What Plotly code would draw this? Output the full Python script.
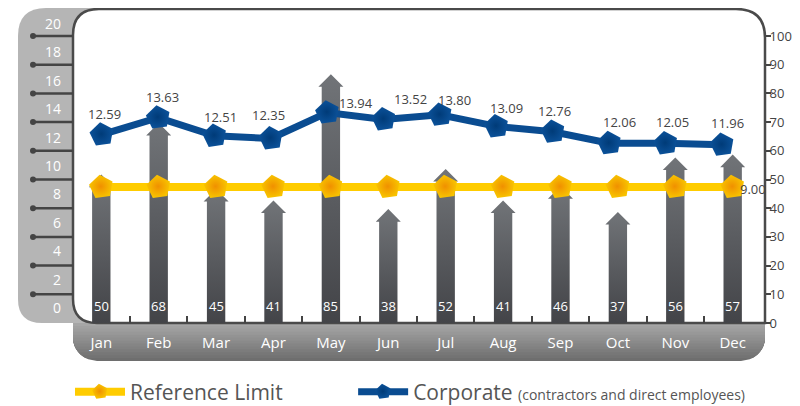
import numpy as np
import plotly.graph_objects as go

# ---------------- data ----------------
months = ["Jan", "Feb", "Mar", "Apr", "May", "Jun", "Jul", "Aug", "Sep", "Oct", "Nov", "Dec"]
workers = [50, 68, 45, 41, 85, 38, 52, 41, 46, 37, 56, 57]
corporate = [12.59, 13.63, 12.51, 12.35, 13.94, 13.52, 13.80, 13.09, 12.76, 12.06, 12.05, 11.96]
reference_limit = [9.00] * 12
left_ticks = list(range(0, 21, 2))
right_ticks = list(range(0, 101, 10))
grid_ticks = list(range(10, 101, 10))

# label offsets (pixels) for the corporate value labels
label_dx = [3, 4, 6, -2, 29, 27, 14, 10, 2, 10, 7, 5]
label_dy = [21, 21, 19, 23, 10, 20, 15, 18, 21, 21, 21, 22]

# ---------------- layout geometry ----------------
# the page body adds an 8px margin, so the figure is 8px smaller and all
# pixel positions below are given in window coordinates
PAGE = 8
W, H = 800 - PAGE, 406 - PAGE
PLOT_L, PLOT_R, PLOT_T, PLOT_B = 73, 765, 8, 323     # window pixels
ML, MT = PLOT_L - PAGE, PLOT_T - PAGE
MR, MB = W - (PLOT_R - PAGE), H - (PLOT_B - PAGE)
PW, PH = PLOT_R - PLOT_L, PLOT_B - PLOT_T


def px(x):
    return (x - PLOT_L) / PW


def py(y):
    return (PLOT_B - y) / PH


FONT = "Open Sans"
idx = np.arange(len(months))

fig = go.Figure()

# empty trace so the left (label) axis owns a subplot
fig.add_trace(go.Scatter(x=[], y=[], xaxis="x", yaxis="y", showlegend=False, hoverinfo="skip"))

# ---------------- arrow bars (right axis) ----------------
BODY, HEAD, SHOULDER, TIP = 0.16, 0.218, 2.7, 1.7
for i, v in enumerate(workers):
    xs = [i - BODY, i - BODY, i - HEAD, i, i + HEAD, i + BODY, i + BODY, i - BODY]
    ys = [0, v - SHOULDER, v - SHOULDER, v + TIP, v - SHOULDER, v - SHOULDER, 0, 0]
    fig.add_trace(go.Scatter(
        x=xs, y=ys, mode="lines", fill="toself", line=dict(width=0),
        fillcolor="#5a5c60",
        fillgradient=dict(type="vertical", colorscale=[[0, "#434448"], [1, "#717478"]]),
        xaxis="x", yaxis="y2", showlegend=False, hoverinfo="skip"))

# ---------------- reference limit ----------------
fig.add_trace(go.Scatter(
    x=idx, y=reference_limit, mode="lines+markers",
    name="Reference Limit" + "&nbsp;" * 12,
    line=dict(color="#ffcc00", width=8),
    marker=dict(symbol="pentagon", size=25, color="#f8c400",
                gradient=dict(type="radial", color="#f09000"), line=dict(width=0), angle=-8),
    xaxis="x", yaxis="y4", hoverinfo="skip"))

# ---------------- corporate ----------------
fig.add_trace(go.Scatter(
    x=idx, y=corporate, mode="lines+markers",
    name='Corporate <span style="font-size:14px">(contractors and direct employees)</span>',
    line=dict(color="#0a4c91", width=7),
    marker=dict(symbol="pentagon", size=25, color="#0b5199",
                gradient=dict(type="radial", color="#003b78"), line=dict(width=0), angle=-8),
    xaxis="x2", yaxis="y3", hoverinfo="skip"))

# ---------------- annotations ----------------
annotations = []
for i, v in enumerate(workers):
    annotations.append(dict(x=i, y=0, xref="x", yref="y2", text=str(v), showarrow=False,
                            yanchor="bottom", yshift=6,
                            font=dict(family=FONT, size=13, color="white")))
for i, v in enumerate(corporate):
    annotations.append(dict(x=i, y=v, xref="x2", yref="y3", text=f"{v:.2f}", showarrow=False,
                            xshift=label_dx[i], yshift=label_dy[i],
                            font=dict(family=FONT, size=13, color="#444")))
annotations.append(dict(x=idx[-1], y=reference_limit[-1], xref="x", yref="y4",
                        text=f"{reference_limit[-1]:.2f}", showarrow=False,
                        xanchor="left", xshift=5, yshift=-2,
                        font=dict(family=FONT, size=13, color="#444")))


# ---------------- decorative shapes ----------------
def P(x, y):
    return f"{px(x):.5f},{py(y):.5f}"


left_panel = (f"M{P(110, 8)} L{P(46, 8)} Q{P(18, 8)} {P(18, 36)} L{P(18, 299)} "
              f"Q{P(18, 323)} {P(42, 323)} L{P(110, 323)} Z")
white_panel = (f"M{P(73, 35)} Q{P(73, 9)} {P(99, 9)} L{P(736, 9)} Q{P(765, 9)} {P(765, 38)} "
               f"L{P(765, 323)} L{P(97, 323)} Q{P(73, 323)} {P(73, 299)} Z")

shapes = [
    dict(type="path", path=left_panel, xref="paper", yref="paper", fillcolor="#b5b5b5",
         line=dict(width=0), layer="below"),
]

# bottom band with a stepped vertical gradient and rounded bottom corners
BT, BB, BL, BR, RAD = 323, 361, 73, 765, 24


def band_path(yb):
    ys = np.linspace(BT, yb, 24)
    right, left = [], []
    for y in ys:
        d = max(0.0, y - (BB - RAD))
        off = RAD - np.sqrt(max(RAD ** 2 - d ** 2, 0.0))
        right.append((BR - off, y))
        left.append((BL + off, y))
    pts = right + left[::-1]
    return "M" + " L".join(P(x, y) for x, y in pts) + " Z"


c_top, c_bot = np.array([0xa9, 0xa9, 0xa9]), np.array([0x6c, 0x6c, 0x6c])
steps = 13
for k in range(steps, 0, -1):
    yb = BT + (BB - BT) * k / steps
    t = (k - 0.5) / steps
    c = (c_top + (c_bot - c_top) * t).astype(int)
    shapes.append(dict(type="path", path=band_path(yb), xref="paper", yref="paper",
                       fillcolor=f"rgb({c[0]},{c[1]},{c[2]})", line=dict(width=0),
                       layer="below"))

shapes.append(dict(type="path", path=white_panel, xref="paper", yref="paper", fillcolor="white",
                   line=dict(color="#4a4a4a", width=2.5), layer="below"))

for g in grid_ticks:
    shapes.append(dict(type="line", xref="paper", yref="y2", x0=px(33), x1=px(73), y0=g, y1=g,
                       line=dict(color="#444", width=2.5), layer="above"))
    shapes.append(dict(type="circle", xref="paper", yref="y2", x0=px(30), x1=px(36),
                       y0=g - 1.05, y1=g + 1.05, fillcolor="#444", line=dict(width=0),
                       layer="above"))

y2_range = [0, PH / 2.87]

fig.update_layout(
    width=W, height=H, autosize=False,
    margin=dict(l=ML, r=MR, t=MT, b=MB, pad=0, autoexpand=False),
    paper_bgcolor="white", plot_bgcolor="rgba(0,0,0,0)",
    font=dict(family=FONT, color="#444"),
    showlegend=True,
    legend=dict(orientation="h", x=px(70), y=py(392), xanchor="left", yanchor="middle",
                font=dict(family=FONT, size=21, color="#555"), bgcolor="rgba(0,0,0,0)",
                itemwidth=50),
    xaxis=dict(range=[-0.493, 11.563], tickmode="array", tickvals=idx, ticktext=months,
               ticks="", showgrid=False, zeroline=False, showline=False, automargin=False,
               tickfont=dict(family=FONT, size=15, color="white"), ticklabelstandoff=9,
               minor=dict(tickmode="array", tickvals=list(idx[:-1] + 0.5), ticks="inside",
                          ticklen=7, tickwidth=2, tickcolor="#444", showgrid=False)),
    xaxis2=dict(range=[-0.511, 11.761], overlaying="x", anchor="y", visible=False),
    yaxis=dict(range=[-1.056, 21.13], tickmode="array", tickvals=left_ticks, ticks="",
               showgrid=False, zeroline=False, showline=False, automargin=False,
               tickfont=dict(family=FONT, size=14, color="white"), ticklabelstandoff=11),
    yaxis2=dict(range=y2_range, overlaying="y", side="right", tickmode="array",
                tickvals=right_ticks, ticks="outside", ticklen=5, tickwidth=2, tickcolor="#444",
                showgrid=False, zeroline=False, showline=False, automargin=False,
                ticklabelstandoff=-4,
                tickfont=dict(family=FONT, size=13, color="#444")),
    yaxis3=dict(range=[1.05, 20.34], overlaying="y", visible=False),
    yaxis4=dict(range=[0, 20.85], overlaying="y", visible=False),
    yaxis5=dict(range=y2_range, overlaying="y", tickmode="array", tickvals=grid_ticks,
                showticklabels=False, ticks="", showgrid=True, gridcolor="#b3b3b3",
                gridwidth=1.5, griddash="4px,3px", zeroline=False, showline=False),
    shapes=shapes,
    annotations=annotations,
)

fig.write_html("out.html")
